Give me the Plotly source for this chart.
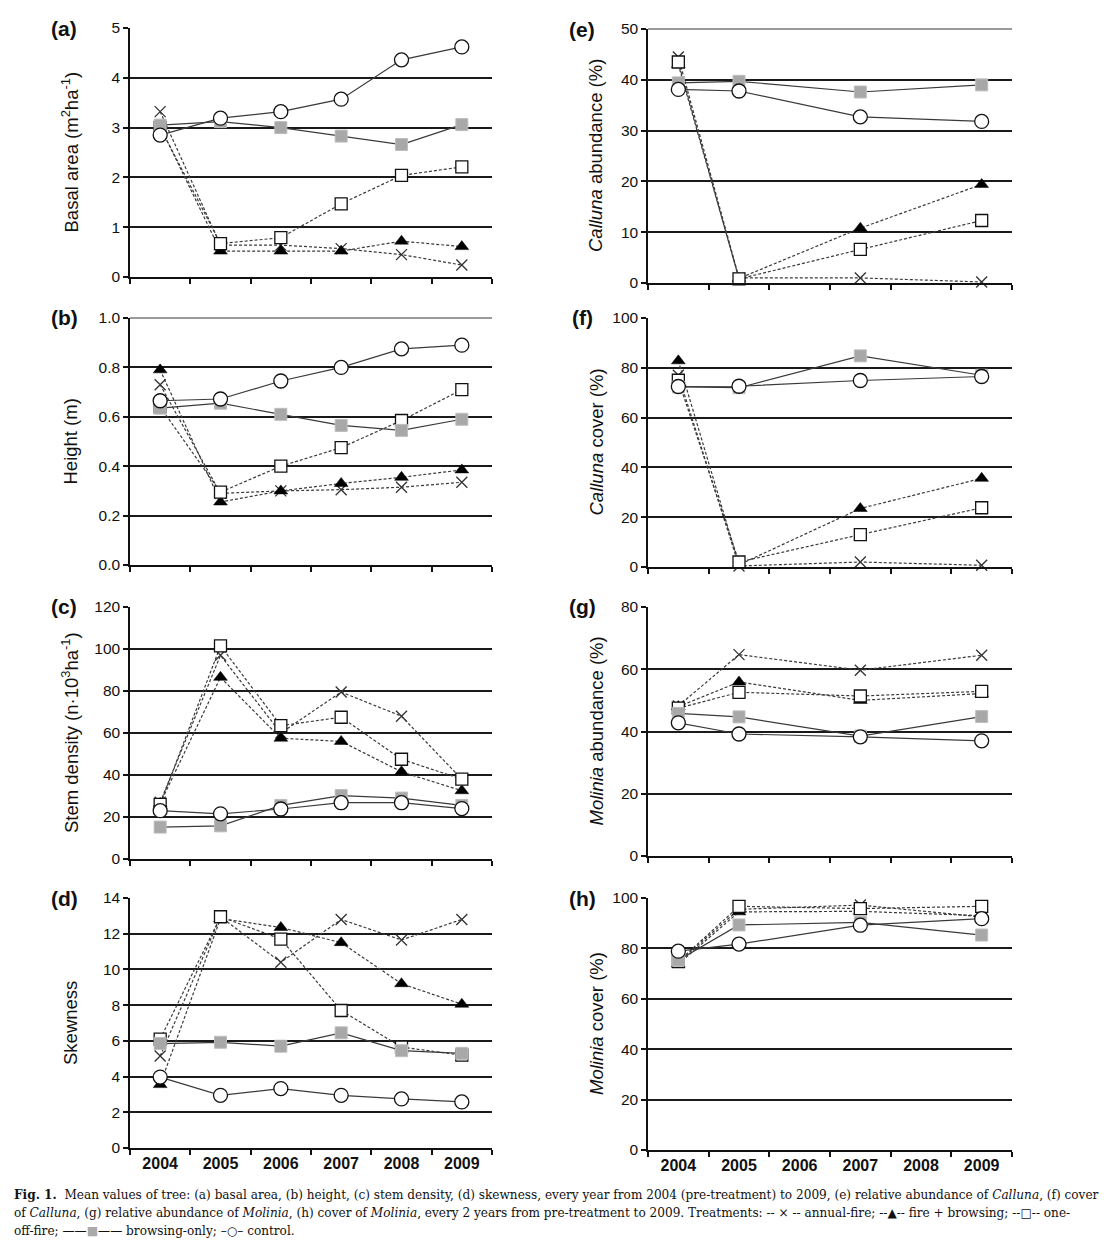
import plotly.graph_objects as go

W, H = 1110, 1251
OFF = 8  # default page body margin
FW, FH = W - 2 * OFF, H - 2 * OFF

years = ["2004", "2005", "2006", "2007", "2008", "2009"]
years_2y = ["2004", "2005", "2007", "2009"]

series_names = ["annual-fire", "fire + browsing", "one-off-fire", "browsing-only", "control"]

# (a) basal area
a_annual = [3.32, 0.64, 0.64, 0.57, 0.45, 0.24]
a_firebr = [3.02, 0.52, 0.52, 0.52, 0.72, 0.61]
a_oneoff = [3.00, 0.67, 0.79, 1.47, 2.04, 2.21]
a_browse = [3.05, 3.12, 3.00, 2.83, 2.66, 3.06]
a_control = [2.85, 3.19, 3.32, 3.57, 4.36, 4.62]

# (b) height
b_annual = [0.73, 0.29, 0.30, 0.305, 0.315, 0.335]
b_firebr = [0.79, 0.255, 0.30, 0.33, 0.355, 0.385]
b_oneoff = [0.64, 0.295, 0.40, 0.475, 0.585, 0.71]
b_browse = [0.635, 0.655, 0.61, 0.565, 0.545, 0.59]
b_control = [0.665, 0.672, 0.745, 0.80, 0.875, 0.89]

# (c) stem density
c_annual = [27.0, 97.0, 60.0, 79.5, 68.0, 38.0]
c_firebr = [26.5, 86.5, 57.5, 56.0, 41.5, 32.5]
c_oneoff = [26.0, 101.5, 63.5, 67.5, 47.5, 38.0]
c_browse = [15.2, 15.8, 25.5, 30.2, 29.0, 25.5]
c_control = [23.0, 21.5, 23.8, 26.8, 26.8, 24.0]

# (d) skewness
d_annual = [5.15, 12.95, 10.4, 12.8, 11.65, 12.8]
d_firebr = [3.55, 12.85, 12.35, 11.5, 9.2, 8.05]
d_oneoff = [6.1, 12.95, 11.7, 7.7, 5.65, 5.2]
d_browse = [5.85, 5.92, 5.7, 6.45, 5.45, 5.3]
d_control = [3.97, 2.95, 3.33, 2.95, 2.75, 2.58]

# (e) Calluna abundance
e_annual = [44.5, 1.0, 1.0, 0.2]
e_firebr = [43.0, 0.9, 10.8, 19.4]
e_oneoff = [43.5, 0.8, 6.6, 12.3]
e_browse = [39.4, 39.7, 37.6, 39.0]
e_control = [38.1, 37.8, 32.7, 31.8]

# (f) Calluna cover
f_annual = [77.0, 0.4, 2.0, 0.7]
f_firebr = [82.8, 0.9, 23.5, 35.6]
f_oneoff = [75.0, 2.0, 13.0, 23.8]
f_browse = [72.3, 72.0, 84.8, 77.0]
f_control = [72.5, 72.6, 74.9, 76.5]

# (g) Molinia abundance
g_annual = [48.2, 64.7, 59.7, 64.5]
g_firebr = [48.0, 55.9, 50.0, 52.2]
g_oneoff = [47.5, 52.6, 51.4, 52.9]
g_browse = [45.8, 44.7, 38.5, 44.8]
g_control = [42.8, 39.2, 38.3, 37.0]

# (h) Molinia cover
h_annual = [74.5, 95.5, 97.2, 92.5]
h_firebr = [73.8, 94.5, 94.7, 93.0]
h_oneoff = [74.8, 96.7, 95.8, 96.7]
h_browse = [75.3, 89.3, 90.3, 85.3]
h_control = [78.9, 81.7, 89.2, 91.8]

panels = [
    dict(label="(a)", x=years, data=[a_annual, a_firebr, a_oneoff, a_browse, a_control],
         title="Basal area (m<sup>2</sup>ha<sup>-1</sup>)", rng=[0, 5], dtick=1, fmt="d", col=0, row=0),
    dict(label="(b)", x=years, data=[b_annual, b_firebr, b_oneoff, b_browse, b_control],
         title="Height (m)", rng=[0, 1], dtick=0.2, fmt=".1f", col=0, row=1),
    dict(label="(c)", x=years, data=[c_annual, c_firebr, c_oneoff, c_browse, c_control],
         title="Stem density (n·10<sup>3</sup>ha<sup>-1</sup>)", rng=[0, 120], dtick=20, fmt="d", col=0, row=2),
    dict(label="(d)", x=years, data=[d_annual, d_firebr, d_oneoff, d_browse, d_control],
         title="Skewness", rng=[0, 14], dtick=2, fmt="d", col=0, row=3),
    dict(label="(e)", x=years_2y, data=[e_annual, e_firebr, e_oneoff, e_browse, e_control],
         title="<i>Calluna</i> abundance (%)", rng=[0, 50], dtick=10, fmt="d", col=1, row=0),
    dict(label="(f)", x=years_2y, data=[f_annual, f_firebr, f_oneoff, f_browse, f_control],
         title="<i>Calluna</i> cover (%)", rng=[0, 100], dtick=20, fmt="d", col=1, row=1),
    dict(label="(g)", x=years_2y, data=[g_annual, g_firebr, g_oneoff, g_browse, g_control],
         title="<i>Molinia</i> abundance (%)", rng=[0, 80], dtick=20, fmt="d", col=1, row=2),
    dict(label="(h)", x=years_2y, data=[h_annual, h_firebr, h_oneoff, h_browse, h_control],
         title="<i>Molinia</i> cover (%)", rng=[0, 100], dtick=20, fmt="d", col=1, row=3),
]

# pixel layout of plot areas (page coordinates)
col_x = [(130, 492), (648, 1012)]
row_y = [[(28, 277), (318, 565), (607, 859), (898, 1148)],
         [(29, 283), (318, 567), (607, 856), (898, 1150)]]
title_x = [70, 596]
label_x = [64, 582]

def px(x):
    return (x - OFF) / FW

def py(y):
    return 1 - (y - OFF) / FH

DASH = "3px,2px"
LINE_C = "#3a3a3a"
styles = [
    dict(line=dict(color=LINE_C, width=1.2, dash=DASH),
         marker=dict(symbol="x-thin", size=11, color="#333", line=dict(color="#333", width=1.3))),
    dict(line=dict(color=LINE_C, width=1.2, dash=DASH),
         marker=dict(symbol="triangle-up", size=12, color="#000", line=dict(color="#000", width=0.5))),
    dict(line=dict(color=LINE_C, width=1.2, dash=DASH),
         marker=dict(symbol="square", size=12, color="#fff", line=dict(color="#111", width=1.3))),
    dict(line=dict(color=LINE_C, width=1.2),
         marker=dict(symbol="square", size=12, color="#a8a8a8", line=dict(color="#bdbdbd", width=1))),
    dict(line=dict(color=LINE_C, width=1.2),
         marker=dict(symbol="circle", size=14, color="#fff", line=dict(color="#111", width=1.3))),
]

fig = go.Figure()
annotations = []
shapes = []
layout = {}
FONT = "Liberation Sans, Arial, sans-serif"

for i, p in enumerate(panels):
    n = i + 1
    xa = "x" if n == 1 else f"x{n}"
    ya = "y" if n == 1 else f"y{n}"
    xkey = "xaxis" if n == 1 else f"xaxis{n}"
    ykey = "yaxis" if n == 1 else f"yaxis{n}"
    c, r = p["col"], p["row"]
    x0, x1 = col_x[c]
    yt, yb = row_y[c][r]
    for name, vals, st in zip(series_names, p["data"], styles):
        fig.add_trace(go.Scatter(x=p["x"], y=vals, name=name, mode="lines+markers",
                                 line=st["line"], marker=st["marker"], cliponaxis=False,
                                 showlegend=False, xaxis=xa, yaxis=ya))
    layout[xkey] = dict(domain=[px(x0), px(x1)], type="category", categoryorder="array",
                        categoryarray=years, range=[-0.5, 5.5], anchor=ya, automargin=False,
                        showline=True, linecolor="#111", linewidth=1.5,
                        ticks="outside", ticklen=5, tickcolor="#111", tickwidth=1.5,
                        tickson="boundaries", showgrid=False, zeroline=False,
                        showticklabels=(r == 3),
                        tickfont=dict(family=FONT, size=16, color="#111", weight="bold"))
    layout[ykey] = dict(domain=[py(yb), py(yt)], range=p["rng"], dtick=p["dtick"], tick0=0,
                        tickformat=p["fmt"], anchor=xa, automargin=False, showline=True,
                        linecolor="#111", linewidth=1.5, ticks="outside", ticklen=5,
                        tickcolor="#111", tickwidth=1.5, showgrid=True, gridcolor="#1a1a1a",
                        gridwidth=1.8, zeroline=False,
                        tickfont=dict(family=FONT, size=15.5, color="#111"))
    annotations.append(dict(text=p["title"], x=px(title_x[c]), y=py((yt + yb) / 2),
                            xref="paper", yref="paper", textangle=-90, showarrow=False,
                            xanchor="center", yanchor="middle",
                            font=dict(family=FONT, size=18.5, color="#111")))
    annotations.append(dict(text="<b>" + p["label"] + "</b>", x=px(label_x[c]), y=py(yt),
                            xref="paper", yref="paper", showarrow=False,
                            xanchor="center", yanchor="middle",
                            font=dict(family=FONT, size=21, color="#111")))
    if p["label"] in ("(b)", "(e)"):
        shapes.append(dict(type="line", xref=f"{xa} domain", yref=f"{ya} domain",
                           x0=0, x1=1, y0=1, y1=1, line=dict(color="#9a9a9a", width=1.8)))

CAP = "DejaVu Serif, Liberation Serif, serif"
cap_lines = [
    "<b>Fig. 1.</b>  Mean values of tree: (a) basal area, (b) height, (c) stem density, (d) skewness, every year from 2004 (pre-treatment) to 2009, (e) relative abundance of <i>Calluna</i>, (f) cover",
    "of <i>Calluna</i>, (g) relative abundance of <i>Molinia</i>, (h) cover of <i>Molinia</i>, every 2 years from pre-treatment to 2009. Treatments: -- × -- annual-fire; --▲-- fire + browsing; --□-- one-",
    "off-fire; ——<span style='color:#aaaaaa'>■</span>—— browsing-only; –○– control.",
]
for k, t in enumerate(cap_lines):
    annotations.append(dict(text=t, x=px(12), y=py(1195 + 18 * k), xref="paper", yref="paper",
                            showarrow=False, xanchor="left", yanchor="middle", align="left",
                            font=dict(family=CAP, size=12.1, color="#111")))

fig.update_layout(width=FW, height=FH, margin=dict(l=0, r=0, t=0, b=0),
                  paper_bgcolor="white", plot_bgcolor="white",
                  annotations=annotations, shapes=shapes, **layout)

fig.write_html("out.html")
